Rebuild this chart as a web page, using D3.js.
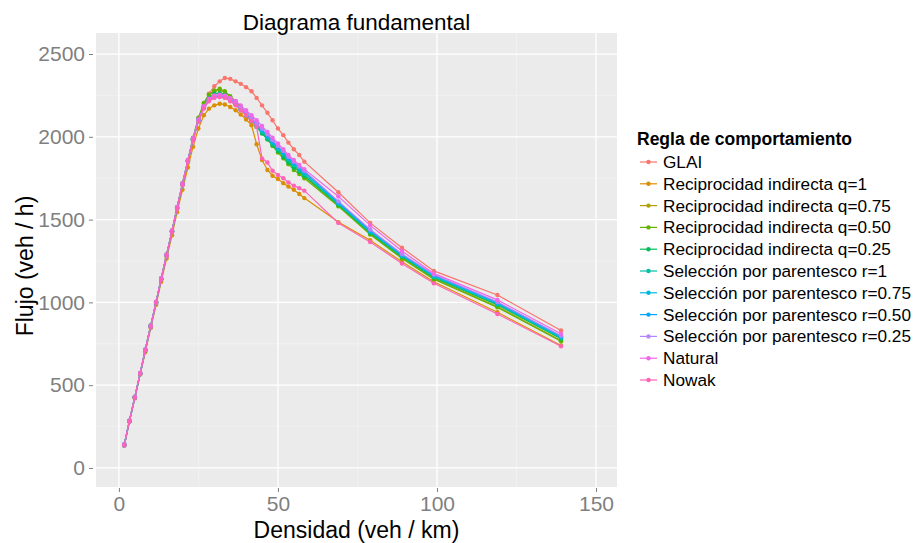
<!DOCTYPE html>
<html>
<head>
<meta charset="utf-8">
<script src="https://cdn.jsdelivr.net/npm/d3@7"></script>
<style>
  html, body { margin: 0; padding: 0; background: #ffffff; }
  svg { display: block; font-family: "Liberation Sans", Arial, sans-serif; }
</style>
</head>
<body>
<svg id="chart" width="922" height="543"></svg>
<script>
// Densidad (veh/km) compartida por todas las reglas
const densities = [1.7, 3.3, 5, 6.7, 8.3, 10, 11.7, 13.3, 15, 16.7, 18.3, 20, 21.7, 23.3, 25, 26.7, 28.3,
  30, 31.7, 33.3, 35, 36.7, 38.3, 40, 41.7, 43.3, 45, 46.7, 48.3, 50, 51.7, 53.3, 55, 56.7, 58.3,
  69, 79, 89, 99, 119, 139];

// Flujo (veh/h) por regla de comportamiento
const flowGLAI = [140, 285, 425, 570, 710, 855, 1000, 1140, 1285, 1430, 1570, 1715, 1855, 1985, 2100, 2190, 2260,
  2305, 2335, 2355, 2350, 2335, 2320, 2300, 2275, 2235, 2190, 2145, 2100, 2050, 2010, 1965, 1925, 1890, 1850,
  1665, 1480, 1330, 1190, 1045, 830];
const flowQ100 = [135, 280, 420, 565, 700, 845, 985, 1125, 1265, 1405, 1545, 1680, 1815, 1940, 2050, 2130, 2170,
  2190, 2200, 2195, 2180, 2160, 2135, 2105, 2070, 1955, 1860, 1800, 1765, 1745, 1720, 1700, 1680, 1655, 1630,
  1485, 1375, 1245, 1125, 940, 740];
const flowQ075 = [140, 282, 428, 572, 712, 858, 1002, 1142, 1288, 1432, 1572, 1718, 1858, 1990, 2110, 2200, 2250,
  2275, 2285, 2270, 2240, 2210, 2175, 2140, 2105, 2070, 2030, 1995, 1960, 1925, 1890, 1855, 1820, 1790, 1760,
  1585, 1415, 1270, 1145, 975, 770];
const flowQ050 = [138, 286, 430, 574, 716, 862, 1004, 1146, 1290, 1434, 1576, 1720, 1860, 1995, 2115, 2205, 2255,
  2280, 2290, 2275, 2245, 2215, 2180, 2145, 2110, 2070, 2025, 1985, 1945, 1905, 1870, 1835, 1800, 1775, 1750,
  1580, 1410, 1265, 1140, 970, 765];
const flowQ025 = [142, 284, 426, 570, 714, 856, 1000, 1142, 1284, 1428, 1570, 1712, 1852, 1985, 2100, 2185, 2235,
  2260, 2265, 2255, 2230, 2200, 2165, 2130, 2095, 2060, 2020, 1985, 1950, 1915, 1880, 1845, 1815, 1790, 1765,
  1590, 1420, 1275, 1150, 985, 780];
const flowR100 = [136, 280, 424, 568, 708, 852, 996, 1138, 1282, 1426, 1566, 1710, 1850, 1980, 2095, 2175, 2220,
  2240, 2245, 2240, 2220, 2195, 2165, 2130, 2100, 2065, 2030, 1995, 1960, 1925, 1895, 1860, 1830, 1800, 1775,
  1595, 1425, 1280, 1155, 990, 785];
const flowR075 = [144, 286, 428, 572, 714, 858, 1000, 1144, 1286, 1430, 1572, 1716, 1856, 1988, 2102, 2180, 2225,
  2245, 2250, 2245, 2225, 2200, 2170, 2140, 2105, 2075, 2040, 2005, 1970, 1935, 1905, 1870, 1840, 1810, 1785,
  1600, 1430, 1285, 1160, 995, 790];
const flowR050 = [138, 282, 426, 570, 712, 856, 998, 1140, 1284, 1428, 1570, 1714, 1854, 1986, 2100, 2178, 2222,
  2240, 2245, 2240, 2222, 2198, 2170, 2140, 2110, 2080, 2045, 2010, 1975, 1940, 1910, 1875, 1845, 1815, 1790,
  1605, 1435, 1290, 1165, 1000, 795];
const flowR025 = [140, 284, 428, 572, 714, 858, 1002, 1144, 1288, 1430, 1572, 1716, 1856, 1988, 2100, 2180, 2225,
  2245, 2250, 2245, 2225, 2200, 2172, 2142, 2112, 2080, 2048, 2015, 1980, 1945, 1915, 1880, 1850, 1820, 1795,
  1610, 1440, 1292, 1168, 1002, 798];
const flowNatural = [142, 286, 430, 574, 716, 860, 1004, 1146, 1290, 1434, 1576, 1720, 1860, 1992, 2105, 2185, 2230,
  2250, 2255, 2250, 2235, 2215, 2190, 2160, 2130, 2100, 2065, 2030, 1995, 1960, 1925, 1890, 1860, 1830, 1805,
  1640, 1465, 1310, 1175, 1015, 810];
const flowNowak = [136, 280, 424, 568, 710, 852, 996, 1138, 1280, 1424, 1566, 1708, 1848, 1978, 2090, 2170, 2215,
  2235, 2240, 2235, 2215, 2190, 2160, 2130, 2095, 2060, 1870, 1845, 1795, 1770, 1750, 1725, 1705, 1690, 1675,
  1480, 1365, 1235, 1115, 930, 735];

const ruleNames = ["GLAI", "Reciprocidad indirecta q=1", "Reciprocidad indirecta q=0.75",
  "Reciprocidad indirecta q=0.50", "Reciprocidad indirecta q=0.25", "Selección por parentesco r=1",
  "Selección por parentesco r=0.75", "Selección por parentesco r=0.50", "Selección por parentesco r=0.25",
  "Natural", "Nowak"];
const ruleFlows = [flowGLAI, flowQ100, flowQ075, flowQ050, flowQ025, flowR100, flowR075, flowR050, flowR025,
  flowNatural, flowNowak];
const ruleColors = ["#F8766D", "#DB8E00", "#AEA200", "#64B200", "#00BD5C", "#00C1A7", "#00BADE", "#00A6FF",
  "#B385FF", "#EF67EB", "#FF63B6"];

const xTicks = [0, 50, 100, 150];
const yTicks = [0, 500, 1000, 1500, 2000, 2500];
const xMinor = [25, 75, 125];
const yMinor = [250, 750, 1250, 1750, 2250];

const series = ruleNames.map((name, i) => ({
  name, color: ruleColors[i],
  points: densities.map((d, j) => ({ d, f: ruleFlows[i][j] }))
}));

const svg = d3.select("#chart");
const panel = { left: 96, right: 617, top: 33, bottom: 487 };

const x = d3.scaleLinear().domain([-7.2, 156.6]).range([panel.left, panel.right]);
const y = d3.scaleLinear().domain([-115, 2627]).range([panel.bottom, panel.top]);

// Panel background
svg.append("rect")
  .attr("x", panel.left).attr("y", panel.top)
  .attr("width", panel.right - panel.left).attr("height", panel.bottom - panel.top)
  .attr("fill", "#EBEBEB");

// Grid lines
const grid = svg.append("g");
grid.selectAll(".xminor").data(xMinor).join("line")
  .attr("x1", d => x(d)).attr("x2", d => x(d))
  .attr("y1", panel.top).attr("y2", panel.bottom)
  .attr("stroke", "#F5F5F5").attr("stroke-width", 0.6);
grid.selectAll(".yminor").data(yMinor).join("line")
  .attr("x1", panel.left).attr("x2", panel.right)
  .attr("y1", d => y(d)).attr("y2", d => y(d))
  .attr("stroke", "#F5F5F5").attr("stroke-width", 0.6);
grid.selectAll(".xmajor").data(xTicks).join("line")
  .attr("x1", d => x(d)).attr("x2", d => x(d))
  .attr("y1", panel.top).attr("y2", panel.bottom)
  .attr("stroke", "#FFFFFF").attr("stroke-width", 1.3);
grid.selectAll(".ymajor").data(yTicks).join("line")
  .attr("x1", panel.left).attr("x2", panel.right)
  .attr("y1", d => y(d)).attr("y2", d => y(d))
  .attr("stroke", "#FFFFFF").attr("stroke-width", 1.3);

// Axes
const xAxis = d3.axisBottom(x).tickValues(xTicks).tickFormat(d3.format("d")).tickSize(4).tickPadding(4);
const yAxis = d3.axisLeft(y).tickValues(yTicks).tickFormat(d3.format("d")).tickSize(4).tickPadding(4);

const gx = svg.append("g").attr("transform", `translate(0,${panel.bottom + 1})`).call(xAxis);
const gy = svg.append("g").attr("transform", `translate(${panel.left - 3},0)`).call(yAxis);
gx.select(".domain").remove();
gy.select(".domain").remove();
gx.selectAll(".tick line").attr("stroke", "#7F7F7F");
gy.selectAll(".tick line").attr("stroke", "#7F7F7F");
gx.selectAll(".tick text").attr("fill", "#7F7F7F").attr("font-size", 21)
  .attr("font-family", "Liberation Sans, Arial, sans-serif");
gy.selectAll(".tick text").attr("fill", "#7F7F7F").attr("font-size", 21)
  .attr("font-family", "Liberation Sans, Arial, sans-serif");

// Series
const line = d3.line().x(p => x(p.d)).y(p => y(p.f));
const gs = svg.append("g");
series.forEach(s => {
  gs.append("path").datum(s.points)
    .attr("d", line).attr("fill", "none")
    .attr("stroke", s.color).attr("stroke-width", 1.2);
  gs.append("g").selectAll("circle").data(s.points).join("circle")
    .attr("cx", p => x(p.d)).attr("cy", p => y(p.f)).attr("r", 2.2)
    .attr("fill", s.color);
});

// Titles
svg.append("text")
  .attr("x", (panel.left + panel.right) / 2).attr("y", 30)
  .attr("text-anchor", "middle").attr("font-size", 22.5).attr("fill", "#000")
  .text("Diagrama fundamental");
svg.append("text")
  .attr("x", (panel.left + panel.right) / 2).attr("y", 538)
  .attr("text-anchor", "middle").attr("font-size", 23).attr("fill", "#000")
  .text("Densidad (veh / km)");
svg.append("text")
  .attr("transform", `translate(33,${(panel.top + panel.bottom) / 2 + 6}) rotate(-90)`)
  .attr("text-anchor", "middle").attr("font-size", 23).attr("fill", "#000")
  .text("Flujo (veh / h)");

// Legend
const legend = svg.append("g").attr("transform", "translate(637,0)");
legend.append("text")
  .attr("x", 0).attr("y", 145)
  .attr("font-size", 17.5).attr("font-weight", "bold").attr("fill", "#000")
  .text("Regla de comportamiento");
const items = legend.selectAll(".item").data(series).join("g")
  .attr("transform", (d, i) => `translate(0,${162 + i * 21.8})`);
items.append("line")
  .attr("x1", 3).attr("x2", 20).attr("y1", 0).attr("y2", 0)
  .attr("stroke", d => d.color).attr("stroke-width", 1.2);
items.append("circle")
  .attr("cx", 11.5).attr("cy", 0).attr("r", 2.2).attr("fill", d => d.color);
items.append("text")
  .attr("x", 26).attr("y", 6)
  .attr("font-size", 17.2).attr("fill", "#000")
  .text(d => d.name);
</script>
</body>
</html>
